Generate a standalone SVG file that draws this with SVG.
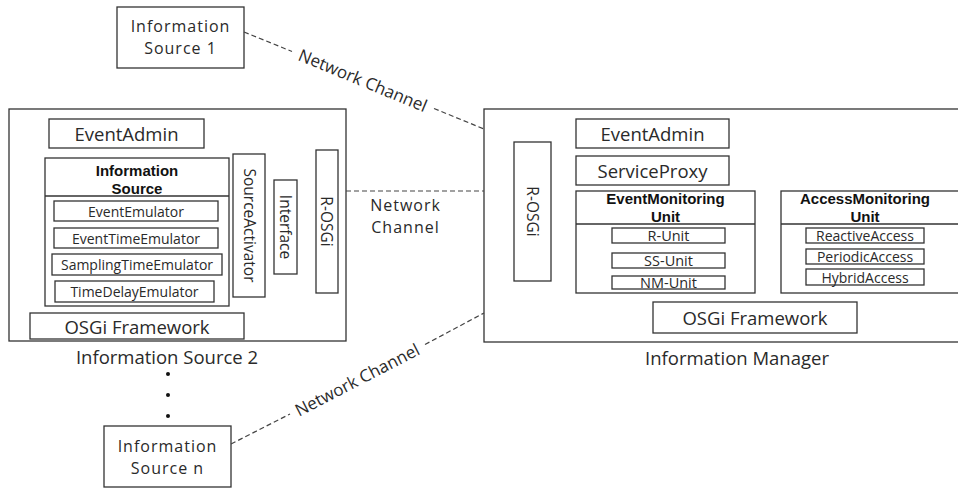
<svg xmlns="http://www.w3.org/2000/svg" width="958" height="489" viewBox="0 0 958 489">
<style>
  rect { fill: #fff; stroke: #333; stroke-width: 1.3; }
  text { font-family: "Open Sans", "Liberation Sans", sans-serif; fill: #2a2a2a; text-anchor: middle; dominant-baseline: central; }
  .l { font-size: 18.5px; }
  .t { font-size: 16px; letter-spacing: 1px; }
  .r { font-size: 15.5px; }
  .s { font-size: 14px; }
  .u { font-size: 14.5px; }
  .b { font-family: "Liberation Sans", Arial, sans-serif; font-size: 15px; font-weight: bold; fill: #111; }
  .n { font-size: 17px; }
  .dash { stroke: #444; stroke-width: 1.2; stroke-dasharray: 5 3; fill: none; }
  .div { stroke: #333; stroke-width: 1.3; }
  .dot { fill: #111; }
</style>
<rect x="0" y="0" width="958" height="489" style="fill:#fff;stroke:none"/>

<g id="source1">
  <rect x="117" y="7" width="127" height="61"/>
  <text class="t" x="180.5" y="26">Information</text>
  <text class="t" x="180.5" y="48">Source 1</text>
</g>

<g id="source2">
  <rect x="9" y="109" width="337" height="232"/>
  <g id="s2-eventadmin">
    <rect x="49" y="119" width="155" height="29"/>
    <text class="l" x="126.5" y="133">EventAdmin</text>
  </g>
  <g id="s2-infosource">
    <rect x="45" y="158" width="184" height="148"/>
    <line class="div" x1="45" y1="196" x2="229" y2="196"/>
    <text class="b" x="137" y="170">Information<tspan x="137" dy="17.5">Source</tspan></text>
    <rect x="54" y="201" width="164" height="20"/>
    <text class="s" x="136" y="211">EventEmulator</text>
    <rect x="54" y="228" width="164" height="20"/>
    <text class="s" x="136" y="238">EventTimeEmulator</text>
    <rect x="52" y="254" width="170" height="21"/>
    <text class="s" x="137" y="264.5">SamplingTimeEmulator</text>
    <rect x="55" y="281" width="159" height="21"/>
    <text class="s" x="134.5" y="291.5">TimeDelayEmulator</text>
  </g>
  <g id="s2-sourceactivator">
    <rect x="233" y="154" width="32" height="143"/>
    <text class="r" transform="translate(249.5,225.5) rotate(90)">SourceActivator</text>
  </g>
  <g id="s2-interface">
    <rect x="274" y="180" width="23" height="94"/>
    <text class="r" transform="translate(285.5,227) rotate(90)">Interface</text>
  </g>
  <g id="s2-rosgi">
    <rect x="316" y="150" width="22" height="143"/>
    <text class="r" transform="translate(327,221.5) rotate(90)">R-OSGi</text>
  </g>
  <g id="s2-osgi">
    <rect x="30" y="313" width="214" height="26"/>
    <text class="l" x="137" y="326">OSGi Framework</text>
  </g>
  <text class="l" x="167" y="356">Information Source 2</text>
  <circle class="dot" cx="168" cy="374" r="2"/>
  <circle class="dot" cx="168" cy="395" r="2"/>
  <circle class="dot" cx="168" cy="416" r="2"/>
</g>

<g id="sourcen">
  <rect x="104" y="426" width="127" height="61"/>
  <text class="t" x="167.5" y="446">Information</text>
  <text class="t" x="167.5" y="468">Source  n</text>
</g>

<g id="manager">
  <rect x="484" y="109" width="480" height="233"/>
  <g id="m-rosgi">
    <rect x="514" y="142" width="37" height="139"/>
    <text class="r" transform="translate(532.5,211.5) rotate(90)">R-OSGi</text>
  </g>
  <g id="m-eventadmin">
    <rect x="576" y="119" width="153" height="29"/>
    <text class="l" x="652.5" y="133">EventAdmin</text>
  </g>
  <g id="m-serviceproxy">
    <rect x="576" y="156" width="153" height="29"/>
    <text class="l" x="652.5" y="170">ServiceProxy</text>
  </g>
  <g id="m-eventmonitoring">
    <rect x="576" y="191" width="179" height="102"/>
    <line class="div" x1="576" y1="224" x2="755" y2="224"/>
    <text class="b" x="665.5" y="198.5">EventMonitoring<tspan x="665.5" dy="17.5">Unit</tspan></text>
    <rect x="612" y="228" width="113" height="15"/>
    <text class="u" x="668.5" y="235.5">R-Unit</text>
    <rect x="612" y="253" width="113" height="15"/>
    <text class="u" x="668.5" y="260.5">SS-Unit</text>
    <rect x="612" y="276" width="113" height="13"/>
    <text class="u" x="668.5" y="282.5">NM-Unit</text>
  </g>
  <g id="m-accessmonitoring">
    <rect x="781" y="191" width="185" height="102"/>
    <line class="div" x1="781" y1="224" x2="966" y2="224"/>
    <text class="b" x="865" y="198.5">AccessMonitoring<tspan x="865" dy="17.5">Unit</tspan></text>
    <rect x="806" y="228" width="118" height="15"/>
    <text class="s" x="865" y="235.5">ReactiveAccess</text>
    <rect x="806" y="249" width="118" height="15"/>
    <text class="s" x="865" y="256.5">PeriodicAccess</text>
    <rect x="806" y="269" width="118" height="16"/>
    <text class="s" x="865" y="277">HybridAccess</text>
  </g>
  <g id="m-osgi">
    <rect x="653" y="302" width="204" height="31"/>
    <text class="l" x="755" y="317.5">OSGi Framework</text>
  </g>
  <text class="l" x="737" y="357">Information Manager</text>
</g>

<g id="connectors">
  <line class="dash" x1="244" y1="32" x2="292" y2="51.5"/>
  <line class="dash" x1="434" y1="108.5" x2="484" y2="129"/>
  <text class="n" transform="translate(363,80) rotate(22.5)">Network Channel</text>

  <line class="dash" x1="346" y1="191" x2="484" y2="191"/>
  <text class="t" x="405.5" y="205">Network</text>
  <text class="t" x="405.5" y="227">Channel</text>

  <line class="dash" x1="231" y1="444" x2="290" y2="414"/>
  <line class="dash" x1="425" y1="344.5" x2="484" y2="313"/>
  <text class="n" transform="translate(357,379.5) rotate(-27.3)">Network Channel</text>
</g>
</svg>
